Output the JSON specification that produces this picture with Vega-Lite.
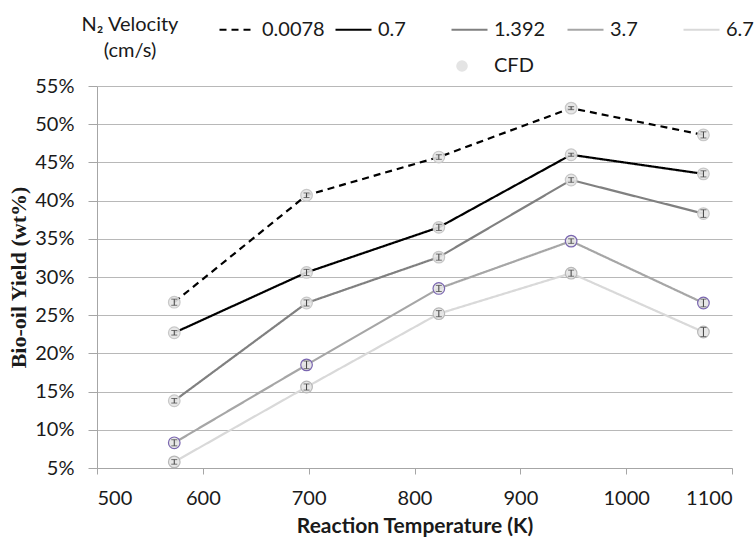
{
  "$schema": "https://vega.github.io/schema/vega-lite/v6.json",
  "width": 635,
  "height": 382,
  "autosize": "none",
  "padding": {"left": 97, "top": 86, "right": 24, "bottom": 72},
  "background": "white",
  "config": {
    "font": "Lato",
    "view": {"stroke": null},
    "axis": {"labelFont": "Lato", "labelColor": "#1a1a1a", "titleColor": "#1a1a1a"}
  },
  "data": {
    "values": [
      {"T": 573, "v": "0.0078", "y": 0.267, "e": 0.004},
      {"T": 698, "v": "0.0078", "y": 0.407, "e": 0.003},
      {"T": 823, "v": "0.0078", "y": 0.457, "e": 0.003},
      {"T": 948, "v": "0.0078", "y": 0.521, "e": 0.002},
      {"T": 1073, "v": "0.0078", "y": 0.486, "e": 0.004},
      {"T": 573, "v": "0.7", "y": 0.227, "e": 0.003},
      {"T": 698, "v": "0.7", "y": 0.306, "e": 0.004},
      {"T": 823, "v": "0.7", "y": 0.365, "e": 0.004},
      {"T": 948, "v": "0.7", "y": 0.460, "e": 0.002},
      {"T": 1073, "v": "0.7", "y": 0.435, "e": 0.004},
      {"T": 573, "v": "1.392", "y": 0.138, "e": 0.003},
      {"T": 698, "v": "1.392", "y": 0.266, "e": 0.004},
      {"T": 823, "v": "1.392", "y": 0.326, "e": 0.004},
      {"T": 948, "v": "1.392", "y": 0.427, "e": 0.003},
      {"T": 1073, "v": "1.392", "y": 0.383, "e": 0.005},
      {"T": 573, "v": "3.7", "y": 0.083, "e": 0.004},
      {"T": 698, "v": "3.7", "y": 0.185, "e": 0.005},
      {"T": 823, "v": "3.7", "y": 0.285, "e": 0.004},
      {"T": 948, "v": "3.7", "y": 0.347, "e": 0.003},
      {"T": 1073, "v": "3.7", "y": 0.266, "e": 0.005},
      {"T": 573, "v": "6.7", "y": 0.058, "e": 0.003},
      {"T": 698, "v": "6.7", "y": 0.156, "e": 0.004},
      {"T": 823, "v": "6.7", "y": 0.252, "e": 0.004},
      {"T": 948, "v": "6.7", "y": 0.305, "e": 0.004},
      {"T": 1073, "v": "6.7", "y": 0.228, "e": 0.006}
    ]
  },
  "encoding": {
    "x": {
      "field": "T", "type": "quantitative",
      "scale": {"domain": [500, 1100], "nice": false, "zero": false},
      "axis": {
        "values": [500, 600, 700, 800, 900, 1000, 1100], "format": "d",
        "grid": false, "domainColor": "#a6a6a6", "tickColor": "#a6a6a6",
        "tickSize": 6, "labelFontSize": 20, "labelPadding": 14,
        "title": "Reaction Temperature (K)", "titleFont": "Lato", "titleFontSize": 21,
        "titleFontWeight": "bold", "titlePadding": 7
      }
    },
    "y": {
      "field": "y", "type": "quantitative",
      "scale": {"domain": [0.05, 0.55], "nice": false, "zero": false},
      "axis": {
        "values": [0.05, 0.1, 0.15, 0.2, 0.25, 0.3, 0.35, 0.4, 0.45, 0.5, 0.55],
        "format": ".0%", "grid": true, "gridColor": "#b8b8b8", "gridWidth": 1.2,
        "domainColor": "#a6a6a6", "tickColor": "#a6a6a6", "tickSize": 9,
        "labelFontSize": 20, "labelPadding": 14,
        "title": "Bio-oil Yield (wt%)", "titleFont": "Liberation Serif", "titleFontSize": 22,
        "titleFontWeight": "bold", "titlePadding": 4
      }
    }
  },
  "layer": [
    {
      "mark": {"type": "line", "strokeWidth": 2.2},
      "encoding": {
        "color": {
          "field": "v", "type": "nominal",
          "scale": {"domain": ["0.0078", "0.7", "1.392", "3.7", "6.7"], "range": ["#000000", "#000000", "#808080", "#a6a6a6", "#d9d9d9"]},
          "legend": {
            "title": ["N₂ Velocity", "(cm/s)"], "titleOrient": "left", "titleFontSize": 20,
            "titleFontWeight": "normal", "titleFont": "Lato", "titleAlign": "center", "titlePadding": -10,
            "titleColor": "#1a1a1a", "titleLineHeight": 26, "titleBaseline": "line-top",
            "orient": "none", "legendX": -16, "legendY": -76, "direction": "horizontal", "columns": 5,
            "gridAlign": "all", "columnPadding": 6,
            "symbolType": "stroke", "symbolSize": 1296, "symbolStrokeWidth": 2.2,
            "labelFontSize": 20, "labelColor": "#1a1a1a", "labelFont": "Lato", "labelOffset": 5
          }
        },
        "strokeDash": {
          "field": "v", "type": "nominal",
          "scale": {"domain": ["0.0078", "0.7", "1.392", "3.7", "6.7"], "range": [[7, 5], [1, 0], [1, 0], [1, 0], [1, 0]]},
          "legend": {
            "title": ["N₂ Velocity", "(cm/s)"], "titleOrient": "left", "titleFontSize": 20,
            "titleFontWeight": "normal", "titleFont": "Lato", "titleAlign": "center", "titlePadding": -10,
            "titleColor": "#1a1a1a", "titleLineHeight": 26, "titleBaseline": "line-top",
            "orient": "none", "legendX": -16, "legendY": -76, "direction": "horizontal", "columns": 5,
            "gridAlign": "all", "columnPadding": 6,
            "symbolType": "stroke", "symbolSize": 1296, "symbolStrokeWidth": 2.2,
            "labelFontSize": 20, "labelColor": "#1a1a1a", "labelFont": "Lato", "labelOffset": 5
          }
        }
      }
    },
    {
      "mark": {"type": "point", "filled": false, "fill": "#e4e4e4", "fillOpacity": 0.9, "strokeWidth": 1.2, "size": 135},
      "encoding": {
        "stroke": {
          "field": "v", "type": "nominal",
          "scale": {"domain": ["0.0078", "0.7", "1.392", "3.7", "6.7"], "range": ["#c8c8c8", "#c8c8c8", "#c8c8c8", "#7a66b0", "#b8b8b8"]},
          "legend": null
        },
        "shape": {
          "datum": "CFD",
          "scale": {"domain": ["CFD"], "range": ["circle"]},
          "legend": {
            "title": null, "orient": "none", "legendX": 355, "legendY": -30,
            "symbolFillColor": "#e4e4e4", "symbolStrokeColor": "#c8c8c8", "symbolSize": 135,
            "labelFontSize": 20, "labelColor": "#1a1a1a", "labelFont": "Lato", "labelOffset": 22
          }
        }
      }
    },
    {
      "mark": {"type": "errorbar", "ticks": {"size": 6, "color": "#404040"}, "color": "#404040", "thickness": 1},
      "encoding": {
        "y": {"field": "y", "type": "quantitative"},
        "yError": {"field": "e"}
      }
    }
  ]
}
